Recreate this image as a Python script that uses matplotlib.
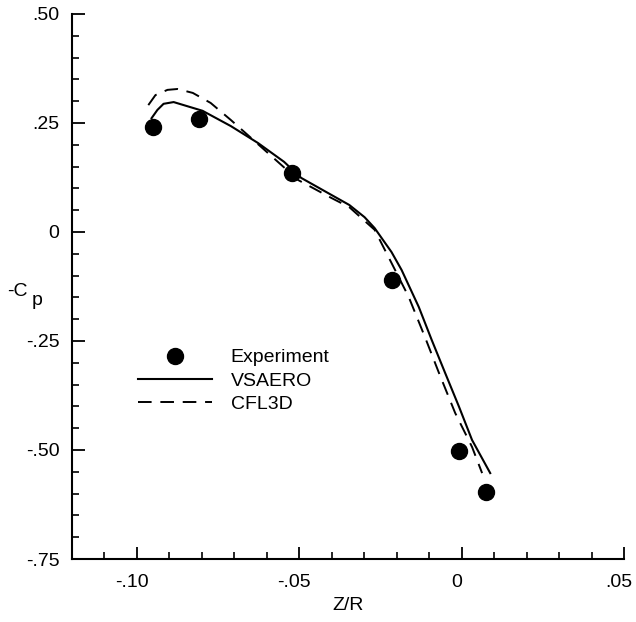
import matplotlib
matplotlib.use("Agg")
import matplotlib.pyplot as plt
from matplotlib.lines import Line2D
import matplotlib.transforms as mtransforms
import numpy as np

plt.rcParams['font.family'] = ['Liberation Sans', 'DejaVu Sans']

# Experiment
exp_x = [-0.095, -0.081, -0.0522, -0.0216, -0.0007, 0.0076]
exp_y = [0.241, 0.259, 0.135, -0.110, -0.502, -0.596]

# VSAERO
vs_x = [-0.0955, -0.0937, -0.0918, -0.0887, -0.0798, -0.0711, -0.0627, -0.0547, -0.0494, -0.0401,
        -0.0346, -0.0299, -0.0268, -0.0216, -0.0185, -0.0132, -0.0092, -0.0051,
        -0.0008, 0.0032, 0.0088]
vs_y = [0.261, 0.280, 0.294, 0.298, 0.278, 0.243, 0.204, 0.161, 0.124, 0.085,
        0.062, 0.034, 0.009, -0.046, -0.087, -0.172, -0.248, -0.323,
        -0.401, -0.477, -0.553]

# CFL3D
cf_x = [-0.0965, -0.0943, -0.0906, -0.0875, -0.0828, -0.0773, -0.0711, -0.0658,
        -0.0503, -0.0401, -0.0346, -0.0268, -0.0216, -0.0163, -0.0113, -0.0070,
        -0.0020, 0.0032, 0.0063]
cf_y = [0.291, 0.314, 0.326, 0.328, 0.319, 0.296, 0.257, 0.222,
        0.119, 0.078, 0.057, 0.005, -0.071, -0.149, -0.241, -0.323,
        -0.415, -0.493, -0.553]

xticks = [-0.10, -0.05, 0.0, 0.05]
xticklabels = ['-.10', '-.05', '0', '.05']
yticks = [0.50, 0.25, 0.0, -0.25, -0.50, -0.75]
yticklabels = ['.50', '.25', '0', '-.25', '-.50', '-.75']

FS = 14

fig = plt.figure(figsize=(6.36, 6.22), dpi=100)
ax = fig.add_axes([72/636, 1-559/622, (624-72)/636, (559-14)/622])

ax.plot(vs_x, vs_y, color='black', lw=1.5, label='VSAERO')
dl, = ax.plot(cf_x, cf_y, color='black', lw=1.4, label='CFL3D')
dl.set_dashes([7, 4.5])
ax.plot(exp_x, exp_y, 'o', color='black', ms=11.5, label='Experiment', zorder=5)

ax.set_xlim(-0.12, 0.05)
ax.set_ylim(-0.75, 0.50)
for s in ['top', 'right']:
    ax.spines[s].set_visible(False)
for s in ['left', 'bottom']:
    ax.spines[s].set_linewidth(1.5)

ax.set_xticks(xticks)
ax.set_xticklabels(xticklabels)
ax.set_yticks(yticks)
ax.set_yticklabels(yticklabels)
ax.set_xticks(np.arange(-0.11, 0.05, 0.01), minor=True)
ax.set_yticks(np.arange(-0.70, 0.50, 0.05), minor=True)
ax.tick_params(which='major', direction='in', length=9, width=1.3, labelsize=FS)
ax.tick_params(which='minor', direction='in', length=5, width=1.2)
ax.tick_params(axis='y', pad=9)
ax.tick_params(axis='x', pad=11)

offset = mtransforms.ScaledTranslation(-5/100, 0, fig.dpi_scale_trans)
for lab in ax.get_xticklabels():
    lab.set_transform(lab.get_transform() + offset)

ax.set_xlabel('Z/R', fontsize=FS, labelpad=4)
fig.text(17/636, 1-291/622, '-C', fontsize=FS, ha='center', va='center')
fig.text(37/636, 1-300/622, 'p', fontsize=FS, ha='center', va='center')

handles = [Line2D([], [], marker='o', ls='none', color='black', ms=11.5),
           Line2D([], [], color='black', lw=1.5),
           Line2D([], [], color='black', lw=1.4, dashes=[7, 4.5])]
leg = ax.legend(handles, ['Experiment', 'VSAERO', 'CFL3D'], loc='upper left',
                bbox_to_anchor=((137-72)/552 - 0.012, (559-341)/545), frameon=False,
                fontsize=FS, handlelength=3.8, handletextpad=0.95, labelspacing=0.3,
                borderaxespad=0)

fig.savefig('out.png', dpi=100)
